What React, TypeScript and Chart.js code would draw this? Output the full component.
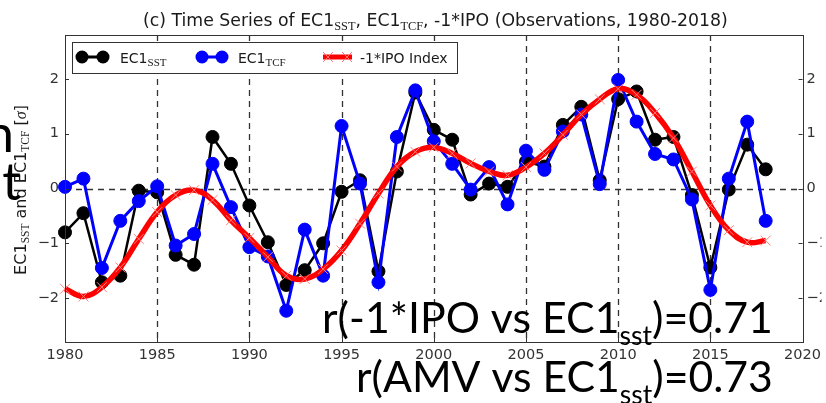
import React, { useEffect, useRef } from "react";
import { Chart, registerables } from "chart.js";

Chart.register(...registerables);

// ---------- data ----------
const years = [
  1980, 1981, 1982, 1983, 1984, 1985, 1986, 1987, 1988, 1989,
  1990, 1991, 1992, 1993, 1994, 1995, 1996, 1997, 1998, 1999,
  2000, 2001, 2002, 2003, 2004, 2005, 2006, 2007, 2008, 2009,
  2010, 2011, 2012, 2013, 2014, 2015, 2016, 2017, 2018,
];
const ec1Sst = [
  -0.8, -0.45, -1.71, -1.59, -0.04, -0.07, -1.21, -1.39, 0.94, 0.45,
  -0.31, -0.98, -1.76, -1.49, -1.0, -0.06, 0.15, -1.51, 0.31, 1.75,
  1.07, 0.89, -0.11, 0.09, 0.03, 0.49, 0.4, 1.16, 1.49, 0.15,
  1.63, 1.77, 0.89, 0.94, -0.12, -1.44, -0.02, 0.8, 0.35,
];
const ec1Tcf = [
  0.03, 0.18, -1.45, -0.59, -0.23, 0.04, -1.04, -0.83, 0.45, -0.34,
  -1.07, -1.24, -2.23, -0.75, -1.59, 1.14, 0.09, -1.71, 0.94, 1.79,
  0.86, 0.45, -0.02, 0.39, -0.29, 0.69, 0.34, 1.04, 1.35, 0.08,
  1.98, 1.22, 0.63, 0.53, -0.2, -1.85, 0.18, 1.22, -0.59,
];
const ipoNeg = [
  -1.83, -1.97, -1.8, -1.44, -0.92, -0.43, -0.12, -0.03, -0.21, -0.58,
  -0.9, -1.25, -1.59, -1.65, -1.47, -1.13, -0.64, -0.09, 0.4, 0.67,
  0.75, 0.64, 0.46, 0.31, 0.24, 0.39, 0.64, 0.98, 1.35, 1.63,
  1.82, 1.71, 1.38, 0.92, 0.31, -0.31, -0.76, -0.98, -0.95,
];
const xTicks = [1980, 1985, 1990, 1995, 2000, 2005, 2010, 2015, 2020];
const yTicks = [-2, -1, 0, 1, 2];

const titleParts = [
  { t: "(c) Time Series of EC1", sub: false },
  { t: "SST", sub: true },
  { t: ", EC1", sub: false },
  { t: "TCF", sub: true },
  { t: ", -1*IPO (Observations, 1980-2018)", sub: false },
];
const legendLabels = [
  { main: "EC1", sub: "SST" },
  { main: "EC1", sub: "TCF" },
  { main: "-1*IPO Index", sub: "" },
];
const corr1 = { pre: "r(-1*IPO vs EC1", sub: "sst", post: ")=0.71" };
const corr2 = { pre: "r(AMV vs EC1", sub: "sst", post: ")=0.73" };

// ---------- helpers ----------
type Seg = { t: string; size: number; fam: string; style?: string; dy?: number };

function segsWidth(ctx: CanvasRenderingContext2D, segs: Seg[], k: number) {
  let w = 0;
  for (const s of segs) {
    ctx.font = `${s.style || ""} ${s.size * k}px ${s.fam}`;
    w += ctx.measureText(s.t).width;
  }
  return w;
}
function drawSegs(ctx: CanvasRenderingContext2D, segs: Seg[], x: number, y: number, k: number) {
  let cx = x;
  ctx.textAlign = "left";
  ctx.textBaseline = "alphabetic";
  for (const s of segs) {
    ctx.font = `${s.style || ""} ${s.size * k}px ${s.fam}`;
    ctx.fillText(s.t, cx, y + (s.dy || 0) * k);
    cx += ctx.measureText(s.t).width;
  }
}
function fitK(ctx: CanvasRenderingContext2D, segs: Seg[], target: number) {
  return target / segsWidth(ctx, segs, 1);
}

const SANS = '"DejaVu Sans", sans-serif';
const SERIF = '"Liberation Serif", serif';
const LATO = 'Lato, "Open Sans", sans-serif';

function line(ctx: CanvasRenderingContext2D, x1: number, y1: number, x2: number, y2: number) {
  ctx.beginPath();
  ctx.moveTo(x1, y1);
  ctx.lineTo(x2, y2);
  ctx.stroke();
}
function crossRot(ctx: CanvasRenderingContext2D, x: number, y: number, r: number) {
  const d = r * Math.SQRT1_2;
  line(ctx, x - d, y - d, x + d, y + d);
  line(ctx, x - d, y + d, x + d, y - d);
}

const decoPlugin = {
  id: "deco",
  beforeDatasetsDraw(chart: any) {
    const { ctx, chartArea, scales } = chart;
    const { left, right, top, bottom } = chartArea;
    const x = scales.x;
    const y = scales.y;
    ctx.save();
    ctx.strokeStyle = "#333";
    ctx.lineWidth = 1.3;
    ctx.setLineDash([6, 5]);
    for (const v of xTicks) {
      if (v <= x.min || v >= x.max) continue;
      const px = Math.round(x.getPixelForValue(v)) + 0.5;
      line(ctx, px, top, px, bottom);
    }
    const py = Math.round(y.getPixelForValue(0)) + 0.5;
    line(ctx, left, py, right, py);
    ctx.restore();
  },
  afterDatasetsDraw(chart: any) {
    const { ctx, chartArea, scales } = chart;
    const { left, right, top, bottom } = chartArea;
    const x = scales.x;
    const y = scales.y;
    ctx.save();
    // frame
    ctx.strokeStyle = "#333";
    ctx.lineWidth = 1;
    ctx.setLineDash([]);
    ctx.strokeRect(Math.round(left) + 0.5, Math.round(top) + 0.5, Math.round(right - left), Math.round(bottom - top));
    // inward ticks
    for (const v of xTicks) {
      const px = Math.round(x.getPixelForValue(v)) + 0.5;
      line(ctx, px, bottom, px, bottom - 4);
      line(ctx, px, top, px, top + 4);
    }
    for (const v of yTicks) {
      const py = Math.round(y.getPixelForValue(v)) + 0.5;
      line(ctx, left, py, left + 4, py);
      line(ctx, right, py, right - 4, py);
    }

    // legend
    const lx = 72, ly = 42, lw = 385, lh = 31;
    ctx.fillStyle = "#fff";
    ctx.fillRect(lx, ly, lw, lh);
    ctx.strokeStyle = "#333";
    ctx.lineWidth = 1;
    ctx.strokeRect(lx + 0.5, ly + 0.5, lw, lh);
    const my = 57;
    // black
    ctx.strokeStyle = "#000";
    ctx.lineWidth = 3;
    line(ctx, 82, my, 103, my);
    ctx.fillStyle = "#000";
    for (const cx of [82, 103]) {
      ctx.beginPath();
      ctx.arc(cx, my, 6.5, 0, Math.PI * 2);
      ctx.fill();
    }
    // blue
    ctx.strokeStyle = "#0000ff";
    line(ctx, 202, my, 222, my);
    ctx.fillStyle = "#0000ff";
    for (const cx of [202, 222]) {
      ctx.beginPath();
      ctx.arc(cx, my, 6.5, 0, Math.PI * 2);
      ctx.fill();
    }
    // red
    ctx.strokeStyle = "#ff0000";
    ctx.lineWidth = 5;
    line(ctx, 323, my, 352, my);
    ctx.strokeStyle = "#ff7070";
    ctx.lineWidth = 1;
    crossRot(ctx, 328, my, 7);
    crossRot(ctx, 347, my, 7);

    ctx.fillStyle = "#1a1a1a";
    const legX = [120, 238, 360];
    legendLabels.forEach((l, i) => {
      const segs: Seg[] = [{ t: l.main, size: 14, fam: SANS }];
      if (l.sub) segs.push({ t: l.sub, size: 11, fam: SERIF, dy: 3 });
      drawSegs(ctx, segs, legX[i], 63, 1);
    });
    ctx.restore();
  },
  afterDraw(chart: any) {
    const { ctx } = chart;
    ctx.save();
    // title
    ctx.fillStyle = "#1a1a1a";
    const tSegs: Seg[] = titleParts.map((p) =>
      p.sub ? { t: p.t, size: 10, fam: SERIF, dy: 3 } : { t: p.t, size: 14, fam: SANS }
    );
    const kT = fitK(ctx, tSegs, 585);
    drawSegs(ctx, tSegs, 143, 26, kT);

    // y label (rotated)
    const ySegs: Seg[] = [
      { t: "EC1", size: 14, fam: SANS },
      { t: "SST", size: 10, fam: SERIF, dy: 3 },
      { t: " and EC1", size: 14, fam: SANS },
      { t: "TCF", size: 10, fam: SERIF, dy: 3 },
      { t: " [", size: 14, fam: SANS },
      { t: "σ", size: 14, fam: SERIF, style: "italic" },
      { t: "]", size: 14, fam: SANS },
    ];
    const kY = fitK(ctx, ySegs, 170);
    const wY = segsWidth(ctx, ySegs, kY);
    ctx.save();
    ctx.translate(26, 190);
    ctx.rotate(-Math.PI / 2);
    drawSegs(ctx, ySegs, -wY / 2, 0, kY);
    ctx.restore();

    // stray slide letters at the left edge
    ctx.fillStyle = "#000";
    ctx.font = `52px ${LATO}`;
    ctx.textAlign = "right";
    ctx.fillText("n", 14, 152);
    ctx.fillText("t", 21, 200);

    // correlation texts
    const mk = (c: { pre: string; sub: string; post: string }): Seg[] => [
      { t: c.pre, size: 42, fam: LATO },
      { t: c.sub, size: 26, fam: LATO, dy: 12 },
      { t: c.post, size: 42, fam: LATO },
    ];
    const s1 = mk(corr1);
    drawSegs(ctx, s1, 322, 333, fitK(ctx, s1, 451));
    const s2 = mk(corr2);
    drawSegs(ctx, s2, 356, 392, fitK(ctx, s2, 417));
    ctx.restore();
  },
};

const tickFont = { family: "DejaVu Sans", size: 14.5 };
const minusFmt = (v: any) => (Number(v) < 0 ? "\u2212" + Math.abs(Number(v)) : String(v));

export default function App() {
  const ref = useRef<HTMLCanvasElement | null>(null);
  useEffect(() => {
    if (!ref.current) return;
    const mkPts = (vals: number[]) => years.map((yr, i) => ({ x: yr, y: vals[i] }));
    const chart = new Chart(ref.current, {
      type: "line",
      data: {
        datasets: [
          {
            label: "EC1 SST",
            data: mkPts(ec1Sst),
            borderColor: "#000",
            backgroundColor: "#000",
            borderWidth: 2.5,
            pointRadius: 6.5,
            pointBackgroundColor: "#000",
            pointBorderColor: "#000",
            pointBorderWidth: 1,
            tension: 0,
            clip: false,
            order: 3,
          },
          {
            label: "EC1 TCF",
            data: mkPts(ec1Tcf),
            borderColor: "#0000ff",
            backgroundColor: "#0000ff",
            borderWidth: 3,
            pointRadius: 6.5,
            pointBackgroundColor: "#0000ff",
            pointBorderColor: "#0000ff",
            pointBorderWidth: 1,
            tension: 0,
            clip: false,
            order: 2,
          },
          {
            label: "-1*IPO Index",
            data: mkPts(ipoNeg),
            borderColor: "#ff0000",
            backgroundColor: "#ff0000",
            borderWidth: 5.5,
            pointStyle: "crossRot",
            pointRadius: 7,
            pointBorderColor: "#ff8080",
            pointBorderWidth: 1,
            tension: 0.4,
            clip: false,
            order: 1,
          },
        ],
      },
      options: {
        animation: false,
        responsive: false,
        events: [],
        layout: { padding: { top: 35, left: 0, right: 0, bottom: 0 } },
        plugins: {
          legend: { display: false },
          title: { display: false },
          tooltip: { enabled: false },
        },
        scales: {
          x: {
            type: "linear",
            position: "bottom",
            min: 1980,
            max: 2020,
            afterBuildTicks: (s: any) => {
              s.ticks = xTicks.map((v) => ({ value: v }));
            },
            afterFit: (s: any) => {
              s.height = 61;
            },
            ticks: {
              font: tickFont,
              color: "#333",
              padding: 5,
              autoSkip: false,
              maxRotation: 0,
              callback: (v: any) => String(v),
            },
            grid: { display: false, drawTicks: false },
            border: { display: false },
          },
          y: {
            type: "linear",
            position: "left",
            min: -2.8,
            max: 2.8,
            afterBuildTicks: (s: any) => {
              s.ticks = yTicks.map((v) => ({ value: v }));
            },
            afterFit: (s: any) => {
              s.width = 65;
            },
            ticks: { font: tickFont, color: "#333", padding: 6, callback: minusFmt },
            grid: { display: false, drawTicks: false },
            border: { display: false },
          },
          y2: {
            type: "linear",
            position: "right",
            min: -2.8,
            max: 2.8,
            afterBuildTicks: (s: any) => {
              s.ticks = yTicks.map((v) => ({ value: v }));
            },
            afterFit: (s: any) => {
              s.width = 19;
            },
            ticks: { font: tickFont, color: "#333", padding: 4, callback: minusFmt },
            grid: { display: false, drawTicks: false },
            border: { display: false },
          },
        },
      },
      plugins: [decoPlugin],
    } as any);
    return () => chart.destroy();
  }, []);
  return (
    <div style={{ position: "absolute", left: 0, top: 0, width: 826, height: 403, background: "#fff" }}>
      <canvas ref={ref} width={826} height={403} style={{ display: "block" }} />
    </div>
  );
}
